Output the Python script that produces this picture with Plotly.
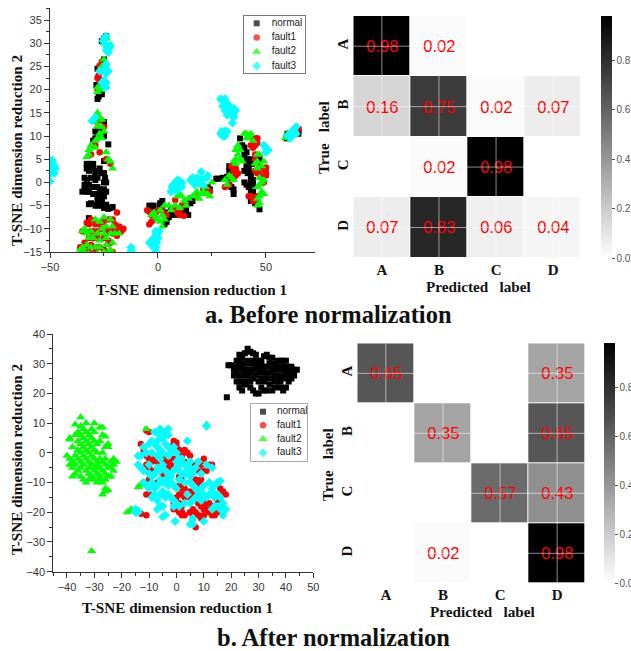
import plotly.graph_objects as go

W, H = 631, 651

# ---- panel a scatter data
a_normal = [(-24,31.5),(-25,31),(-26,30.5),(-25,26.5),(-26,25.5),(-27,25),(-28,24.5),(-27,22),(-28.5,21),(-27,20),(-26,19),(-27.5,18.5),(-28,18),
(-25,13),(-29,11),(-28,10.5),(-29,9.5),(-27,11),(-26,11.5),(-25,10),(-23,8.2),(-25,4.6),(-30,9),(-28,11.5),
(-33,4),(-32,4),(-31,3.5),(-30,3),(-32,2.5),(-33,3),(-30,4),(-29,2),(-28,2.5),(-27,3),(-26,2),(-25,2),(-24.5,1),(-31,1),(-29,1.5),(-29,0.5),(-28,1),(-25,0),(-24,0),(-34,1),(-33,0.5),(-34,-0.5),(-33,-1),(-32,-0.5),(-34,-1.5),(-35,-2),(-33,-2),(-32,-2),(-30,-1),(-28,-1),(-27,-1.5),(-25,-1.5),(-24,-2),(-30,-2.5),(-29,-2.5),(-28,-2.5),(-26,-2.5),(-25,-2.5),(-28,-3),(-27,-3.5),(-26,-3.5),(-25,-3),(-28,-4),(-27,-4.5),(-26,-4.5),(-32,-4.7),(-31,-4.5),(-29,-5),(-28,-5),(-26,-5),(-25,-5.5),(-24,-5.2),(-23,-5.7),(-22,-5.5),(-21,-5.3),(-24,-4.8),(-32,-7.7),
(-4,-5),(-3,-5.2),(-2,-5),(-3,-6),(1,-5.5),(1,-4.5),(2,-4),(2,-5),(3,-6.5),(5,-6.5),(6,-7),(5,-7.5),(4,-8.5),(3,-9),(6,-6),(8,-7),
(14,-4),(15,-3.5),(15,-4.5),(16,-4),(13,-6),(14,-7),(12,-6.5),(23,-1),(24,-1.5),(27,0.8),(28,0.8),(30,1),(32,1.2),(33,3.5),(33,2.5),(34,1),(35,-1.5),(35,-2.5),(34,-1),(33,0),
(38,9.5),(39,8),(40,7.5),(40,6),(41,6.5),(41,5),(41,4),(42,4),(41,3),(40,2.5),(41.5,2),(42,2.5),(42,3.5),(43,2),(43,1),(44,0.5),(43,0),(44,-0.5),(41,-0.5),(40,0),(42,-1),(43,-2),(44,-2),(44,-3.5),(43,-4),(45,-4.5),(47,-5.8),(47,5),(43,5),(43.5,4),
(65,11),(65,10.5),(65,11.5),(60,10.5),(59.5,9.5),(60,10)]
a_fault1 = [(-26,26),(-27,25),(-28,22.5),(-27,22),(-27.5,23),(-28,20),(-26.5,13.5),(-28,13),(-25,12),(-30,8),(-29,8),(-27,6.5),(-24,5),(-22,4),(-31,6),
(-19,-6.5),(-21,-8),(-23,-8),(-25,-8.5),(-27,-9),(-29,-9),(-31,-8),(-33,-8.7),(-32,-9),(-18,-9.5),(-16,-10),(-17,-10.5),(-19,-10),(-20,-9),(-21,-10),(-22,-10.5),(-24,-10),(-26,-10),(-28,-10.5),(-30,-10.5),(-31,-10.5),(-34,-10.5),(-35,-10.5),(-19,-11.5),(-21,-11),(-24,-11),(-25,-12),(-23,-12.5),(-22,-13),(-28,-12),(-30,-12),(-32,-12),(-34,-13),(-36,-14),(-35,-14),(-33,-14),(-31,-13.5),(-29,-14),(-27,-14),(-25,-14.5),(-23,-15),(-21,-15),(-35,-15),(-32,-15),(-29,-15),(-33,-15.3),
(-5,-6),(-4,-6.3),(-3,-7),(-2,-8),(-3,-8.5),(-4,-9),(-1,-6.5),(0,-6),(2,-6),(3,-7),(4,-7),(7,-5.5),(8,-3.8),(9,-6),(9,-6.5),(10,-7),(10,-6),(11,-5),(12,-7.2),(12,-5),(13,-4.5),(18,-3),(21,-1.5),(22,-2),(23,-1.5),(24,-2),
(31,-1),(33,-0.5),(35,1),(35,2.5),(36,3),(34,3.5),(36,1.5),(37,2),
(42,-3),(43,-3),(44,-4),(46,-4),(46,-3),(46,2),(45,2.5),(44,9),(45,9.5),(46,9.5),(46,8.5),(45,8),(44,7.5),(43,8),(45,6),(45,5),(47,3.5),(48,3),(49,3),(50,3),(50,2),(50,1.5),(50,3.2),(49,0),(48,1),(47,2),
(65,11.5),(64,11)]
a_fault2 = [(-24,31),(-25,30),(-25,26.5),(-24.5,25.5),(-26,25),(-25,24.5),(-28,20.5),(-27,20),(-28,19.5),
(-28,15),(-27,14),(-26,13.5),(-29,13),(-28,12),(-26,12),(-25,11),(-27,10.5),(-26,9.5),(-28,9.5),(-29,9),(-31,8),(-32,7),(-32,6),(-33,5.5),(-29,7.5),(-24,6.5),(-23,5),(-22,4.5),(-21,3),
(-25,-7.5),(-27,-8.5),(-29,-8),(-22,-8),(-21,-9.5),(-24,-9.5),(-26,-10),(-34,-10),(-35,-10.5),(-33,-11),(-31,-10.5),(-28,-11),(-25,-11),(-22,-11),(-20,-11),(-18,-11),(-30,-12),(-32,-12),(-27,-12.5),(-24,-12),(-21,-13),(-33,-13.5),(-35,-14),(-36,-14.5),(-31,-14),(-29,-14),(-27,-14),(-24,-13.5),(-22,-14.5),(-34,-15),(-32,-15.3),(-28,-15.3),(-25,-15),(-23,-15),
(-3,-7),(-2,-6.5),(-1,-7.5),(0,-8),(1,-8.5),(2,-9.5),(3,-8),(2,-7),(1,-6),(3,-5),(5,-5),(6,-6),(8,-5),(10,-5.5),(9,-3),(11,-3),(10,-2.5),(12,-4),(13,-5),(14,-3.5),(16,-3),(17,-3),(18,-2),(19,-3.5),(20,-2.5),(21,-2),(22,-1),(23,-2.5),(24,-3),(25,0),
(31,0.5),(32,-0.5),(33,1.5),(34,1),(35,0.5),(36,4),(35,4.5),(36,5),(37,6),(36,7),(37,8),(38,7),(38,5),(39,4.5),(40,10.5),(41,10.5),(42,10),(43,10.5),(41,9.5),(44,9),
(46,6),(47,6),(46,4.5),(45,4),(46,3),(47,1),(48,0),(47,-0.5),(46,-1),(49,0.5),(48,-2),(49,-2.5),(47,-3),(46,-3.5),(47,-4.5),(46,-5),(48,3.5),(49,4.5),
(59,9.5),(60,10.5),(61,10),(63,11)]
a_fault3 = [(-24,31.5),(-25,31),(-25.5,30.5),(-24,29.5),(-23,29.5),(-23.5,29),(-22,29.5),(-24,28.5),(-23,28),(-22.5,29),(-24,25.5),(-25,24),(-27,24),(-24,23.5),(-23,24),(-24.5,24.7),(-25,22),(-24,21.5),(-26,21.5),(-25,20.7),(-24,20.5),(-30.5,13.3),(-30,13.5),(-29,14),
(-49,4.8),(-48.5,4),(-48,3.5),(-49,3),(-47.5,3),(-49.5,2.5),(-48,2),(-50,0.2),(-49.5,2),(-48.5,2.8),
(-12.5,-14),(-12.3,-14.7),(-12,-15.3),(-12.5,-15),
(-1,-15),(-2,-14),(-2,-13),(-1,-14),(-1.5,-13),(-0.5,-13),(-4,-13),(-3,-12.5),(-2,-12),(-1,-11),(0,-12),(-1,-10.5),(0,-11),(0.5,-10.5),(-0.5,-12),
(6,-2),(6.5,-1),(7,-0.5),(7,-1.5),(8,0),(8,-1),(9,0.5),(9,-0.5),(10,0.3),(10,-0.8),(11,0),(11,-1),(8.5,-1.8),
(15,0.5),(16,1),(17,0.5),(17,-0.5),(18,1),(18,0),(19,0.5),(19,-0.3),(20,2.3),(20,0.5),(21,-0.5),(20.5,0.7),(23,1.5),(22.5,1),
(29,18),(30,17.5),(30,16.5),(31,18),(31,16.5),(32,17),(32,15.5),(33,16.5),(33,15),(34,16),(34,15),(35,16),(36,15.5),(35,14.5),(35,14),(34.5,12.8),(32,14.5),(31,15.5),
(29,10.5),(30,10.5),(30,10),(31,11),(31,10),(32,11),(29.5,11),
(49,8),(50,7.5),(51,7),(50,6.5),
(60,10),(61,10.5),(62,10),(62,11),(63,11),(63,11.5),(64,12),(64,10.5),(61,9.5)]

# ---- panel b scatter data
b_normal = [(19,29.5),(20,29.5),(18.4,18.7),(21,28),(22,27),(23,29),(22,31),(23,33),(24,32),(25,33.5),(26,35),(27,34),(28,33.5),(29,33),(30,31),(31,30),(32,32.5),(33,33),(34,32),(35,32),(36,30),(37,29),(38,31),(39,31),(40,31),(41,29),(42,29),(43,28),(44,28),
(21,26),(22,24),(23,22),(24,21),(25,23),(26,26),(27,24),(28,21),(29,20),(30,20),(31,22),(32,21),(33,21),(34,23),(35,21),(36,22),(37,24),(38,22),(39,21),(40,22),(41,24),(42,25),(43,26),(41,27),
(23,26),(24,28),(25,30),(26,28),(27,30),(28,28),(29,26),(30,27),(31,25),(32,27),(33,29),(34,27),(35,28),(36,26),(37,26),(38,28),(39,26),(40,25),(24,24),(25,26),(26,31),(27,27),(28,31),(29,29),(30,24),(31,28),(32,24),(33,25),(34,30),(35,25),(36,24),(37,31),(38,25),(39,29),(40,28),(42,27),(23,31),(24,30),(25,28),(28,25),(30,29),(32,29),(26,24),(22,29),(23,24),(27,22),(35,30),(40,27),(29,31),(33,27),(38,24),(31,31),(36,28)]
b_fault1 = [(-11,7.5),(-10,7),(-13,3),(-12,1),(-11,-1),(-10,-2),(-9,-3),(-11,-4),(-10,-5),(-9,-6),(-8,-2),(-7,-3),(-4,-1),(-3,-3),(-2,-4),(-3,-5),(-4,-3),(-1,-2),(-2,2),(-1,3),(-1,4),(0,2),(0,3.5),(1,1),(1,0),(2,-1),(3,1),(4,0),(5,-1),(3,-3),(5,-4),(6,-5),(7,-4),(8,-3),(9,-4),(10,-2),(11,-6),(12,-4),(13,-4),(10,-6),(8,-6),
(-12,-10),(-10,-9),(-9,-11),(-11,-14),(-10,-14),(-8,-14),(-13,-20.5),(-11,-21),(-7,-10),(-5,-7),(-4,-8),
(1,-8),(2,-9),(3,-10),(1,-11),(2,-12),(3,-12),(1,-14),(2,-14),(3,-15),(0,-15),(-1,-17),(0,-17),(1,-17),(2,-18),(0,-19),(1,-20),(2,-20),(3,-21),(-1,-19),(2,-21),(5,-13),(6,-14),(5,-15),(7,-9),(8,-10),(9,-9),(9,-11),(8,-17),(9,-18),(10,-19),(11,-17),(12,-17),(13,-18),(14,-15),(12,-20),(13,-21),(14,-21),(15,-20),(16,-12),(17,-13),(18,-14),(15,-16),(7,-20),(8,-21),(9,-22),(6,-22),(6,-21),(7,-25),(6,-19),(10,-21),(5,-20),(11,-19),(16,-16)]
b_fault2 = [(-35,12),(-37,9.5),(-35,9),(-33,10),(-30,10),(-28,8.5),(-27,8.5),(-39,5),(-37,6),(-36,7),(-35,6),(-34,8),(-33,7),(-32,6),(-31,8),(-30,7),(-27,6),(-26,5.5),(-39,4.5),(-36,4),(-35,3),(-34,5),(-33,4),(-32,3),(-31,5),(-30,4),(-29,3),(-28,4),(-26,2),(-25,2),(-38,2),(-36,1),(-35,0),(-34,2),(-33,1),(-32,0),(-31,2),(-30,1),(-29,0),(-27,0),(-25,3),(-40,-1),(-39,-2),(-38,-3),(-37,-1),(-36,-2),(-35,-3),(-34,-1),(-33,-2),(-32,-3),(-31,-1),(-30,-2),(-29,-3),(-28,-2),(-27,-3),(-26,-2),(-39,-4),(-38,-5),(-37,-4),(-35,-5),(-34,-4),(-32,-5),(-31,-4),(-30,-5),(-29,-4),(-28,-5),(-26,-4),(-25,-5),(-24,-3),(-23,-4),(-22,-3),(-23,-2),(-24,-5),(-38,-8),(-37,-7),(-36,-6),(-35,-8),(-33,-6),(-32,-7),(-31,-8),(-30,-6),(-29,-7),(-28,-8),(-27,-6),(-26,-7),(-25,-8),(-24,-8),(-23,-6),(-34,-9),(-33,-10),(-32,-9),(-30,-9),(-29,-10),(-28,-9),(-27,-10),(-26,-9),
(-27,-14),(-26,-13),(-26,-12),(-25,-12.5),(-14,-11.5),(-13.5,-11),(-18,-20),(-17,-19.5),(-16.5,-19),(-31,-33),(-11,8),(11,9.5)]
b_fault3 = [(-9,4),(-8,7),(-6,6),(-6,8),(-4,7),(-3,8),(-3,6),(-5,5),(-7,4),(-8,3),(-10,3),(-12,2),(-11,0),(-14,-1),(-13,-1),(-7,2),(-6,1),(-4,3),(-3,2),(-5,0),(-6,-2),(-7,-1),(-3,-1),(-2,0),(0,0),(1,-2),(2,-2),(0,-3),(3,-4),(4,4),(5,-5),(-14,-4),(-13,-5),(-12,-6),(-10,-7),(-9,-8),(-8,-7),(-7,-5),(-6,-6),(-5,-4),(-4,-6),(-3,-7),(-2,-8),(-1,-6),(0,-5),(1,-6),(2,-7),(3,-7),(4,-6),(5,-8),(6,-7),(7,-5),(8,-3),(11,-4),(13,-5),
(-12,-10),(-11,-11),(-10,-12),(-9,-10),(-8,-12),(-7,-11),(-6,-9),(-5,-10),(-4,-9),(-3,-11),(-2,-10),(-1,-11),(0,-12),(1,-9),(3,-10),(5,-10),(6,-11),(7,-12),(8,-13),(9,-12),(10,-11),(12,-10),(13,-12),(14,-11),(15,-10),(16,-9.5),
(-9,-15),(-8,-14),(-7,-16),(-6,-14),(-5,-13),(-4,-15),(-3,-14),(-2,-15),(-1,-16),(0,-17),(-6,-18),(-7,-19),(-5,-18),(-5,-21.5),(-4,-21),(-1,-18),(1,-18),(-0.5,-23),(3,-17),(5,-17),(6,-16),(7,-15),(8,-15),(9,-16),(10,-14),(11,-15),(12,-14),(13,-13),(14,-15),(15,-14),(16,-15),(14,-18),(15,-18),(16,-19),(17,-17),(18,-19),(17,-21),(13,-19),(10,-23),(6,-24),(5,-24),(6,-22),(-15,-19),(-14,-19.5),(-15,-20),(-14,-20),(11,9),(4,-14),(-10,-4),(-9,0),(-1,2),(1,-4),(5,-3),(9,-7)]

# ---- confusion matrices
labels = ["A", "B", "C", "D"]
matrix_a = [[0.98, 0.02, None, None],
            [0.16, 0.75, 0.02, 0.07],
            [None, 0.02, 0.98, None],
            [0.07, 0.83, 0.06, 0.04]]
matrix_b = [[0.65, None, None, 0.35],
            [None, 0.35, None, 0.65],
            [None, None, 0.57, 0.43],
            [None, 0.02, None, 0.98]]
series_names = ["normal", "fault1", "fault2", "fault3"]
series_colors = ["#000000", "#ff0000", "#00ff00", "#00ffff"]
series_symbols = ["square", "circle", "triangle-up", "diamond"]
series_sizes = [6, 6.5, 8, 7]

def fx(p): return p / W
def fy(p): return 1 - p / H

SERIF = "Liberation Serif"
SANS = "Liberation Sans"
fig = go.Figure()

# scatter panels
for axis_suffix, groups in [("", (a_normal, a_fault1, a_fault2, a_fault3)),
                            ("2", (b_normal, b_fault1, b_fault2, b_fault3))]:
    for name, color, sym, size, pts in zip(series_names, series_colors, series_symbols, series_sizes, groups):
        fig.add_trace(go.Scatter(x=[p[0] for p in pts], y=[p[1] for p in pts], mode="markers", name=name, showlegend=False,
                                 marker=dict(color=color, symbol=sym, size=size, line=dict(width=0)),
                                 xaxis="x" + axis_suffix, yaxis="y" + axis_suffix))

def heat(matrix, xa, ya, top, bottom, cx):
    text = [["" if v is None else f"{v:.2f}" for v in row] for row in matrix]
    fig.add_trace(go.Heatmap(z=matrix, x=labels, y=labels, text=text, texttemplate="%{text}",
                             textfont=dict(color="#ff0000", size=16.5, family=SANS),
                             xaxis=xa, yaxis=ya, zmin=0, zmax=0.98, xgap=1, ygap=1, hoverongaps=False,
                             colorscale=[[0, "#ffffff"], [1, "#000000"]], showscale=True,
                             colorbar=dict(x=fx(cx), xanchor="left", xpad=0, ypad=0, thickness=10.5, thicknessmode="pixels",
                                           y=fy(top), yanchor="top", len=(bottom - top) / H, lenmode="fraction",
                                           outlinewidth=0, tickvals=[0, 0.2, 0.4, 0.6, 0.8], ticktext=["0.0", "0.2", "0.4", "0.6", "0.8"],
                                           ticks="outside", ticklen=3, tickcolor="#555555", tickwidth=1,
                                           tickfont=dict(family=SANS, size=10, color="#555555"))))

heat(matrix_a, "x3", "y3", 16, 257.7, 600.7)
heat(matrix_b, "x4", "y4", 343.3, 583.3, 604.3)

# hand-built legends, one small subplot each (the native legend has a minimum row height)
key_rows_a = [7.3, 21.5, 35.7, 50]
key_rows_b = [7.7, 21.3, 35, 48.7]
for xa, ya, rows, key_x, text_x in [("x5", "y5", key_rows_a, 12.7, 27.7), ("x6", "y6", key_rows_b, 12, 26)]:
    fig.add_trace(go.Scatter(x=[key_x] * 4, y=rows, mode="markers", xaxis=xa, yaxis=ya, showlegend=False, hoverinfo="skip",
                             marker=dict(color=series_colors, symbol=series_symbols, size=series_sizes, line=dict(width=0))))
    fig.add_trace(go.Scatter(x=[text_x] * 4, y=rows, mode="text", text=series_names, textposition="middle right",
                             xaxis=xa, yaxis=ya, showlegend=False, hoverinfo="skip", cliponaxis=False,
                             textfont=dict(family=SANS, size=10, color="#222222")))

# white cross lines over the cells
shapes = []
for xa, ya in [("x3", "y3"), ("x4", "y4")]:
    for lab in labels:
        shapes.append(dict(type="line", xref=f"{xa} domain", yref=ya, x0=0, x1=1, y0=lab, y1=lab,
                           line=dict(color="rgba(255,255,255,0.55)", width=1)))
        shapes.append(dict(type="line", xref=xa, yref=f"{ya} domain", x0=lab, x1=lab, y0=0, y1=1,
                           line=dict(color="rgba(255,255,255,0.55)", width=1)))

def scat_axis(domain, rng, dtick, minor, anchor):
    return dict(domain=domain, range=rng, dtick=dtick, tick0=0, showgrid=False, zeroline=False, showline=True,
                linecolor="#333333", linewidth=1, ticks="outside", ticklen=5, tickcolor="#333333", anchor=anchor,
                tickfont=dict(family=SANS, size=11, color="#333333"),
                minor=dict(dtick=minor, ticks="outside", ticklen=3, tickcolor="#333333", showgrid=False))

def heat_axis(domain, anchor, angle=0, rev=False):
    d = dict(domain=domain, anchor=anchor, type="category", showgrid=False, zeroline=False, showline=False, ticks="",
             tickangle=angle, tickfont=dict(family=SERIF, size=15, color="#111111", weight="bold"), ticklabelstandoff=1)
    if rev:
        d["autorange"] = "reversed"
    return d

def key_axis(domain, rng, anchor, color):
    return dict(domain=domain, range=rng, anchor=anchor, showgrid=False, zeroline=False, showticklabels=False, ticks="",
                showline=True, mirror=True, linecolor=color, linewidth=1, fixedrange=True)

def note(text, x, y, size, angle=0):
    return dict(text=f"<b>{text}</b>", xref="paper", yref="paper", x=fx(x), y=fy(y), xanchor="center", yanchor="middle",
                showarrow=False, textangle=angle, font=dict(family=SERIF, size=size, color="#111111"))

sp = "\u00a0\u00a0\u00a0"
annotations = [
    note("T-SNE dimension reduction 1", 191, 290, 15.2),
    note("T-SNE dimension reduction 2", 16, 151, 15.2, -90),
    note("T-SNE dimension reduction 1", 177, 607, 15.2),
    note("T-SNE dimension reduction 2", 16, 460, 15.2, -90),
    note(f"Predicted{sp}label", 478, 286, 15.2),
    note(f"True{sp}label", 324, 137, 15, -90),
    note(f"Predicted{sp}label", 482, 611, 15.2),
    note(f"True{sp}label", 328, 465, 15, -90),
    note("a. Before normalization", 328, 314, 24.5),
    note("b. After normalization", 333, 637, 24.5),
]

fig.update_layout(
    width=W, height=H, autosize=False, paper_bgcolor="#ffffff", plot_bgcolor="#ffffff", showlegend=False,
    margin=dict(l=0, r=0, t=0, b=0, autoexpand=False),
    xaxis=scat_axis([fx(50), fx(315)], [-50, 72.7], 50, 25, "y"),
    yaxis=scat_axis([fy(252), fy(8)], [-15, 37.6], 5, 2.5, "x"),
    xaxis2=scat_axis([fx(53.3), fx(313.3)], [-45, 50], 10, 5, "y2"),
    yaxis2=scat_axis([fy(571.7), fy(334)], [-40, 40], 10, 5, "x2"),
    xaxis3=heat_axis([fx(353.3), fx(581.7)], "y3"),
    yaxis3=heat_axis([fy(257.7), fy(16)], "x3", -90, True),
    xaxis4=heat_axis([fx(357.3), fx(585.7)], "y4"),
    yaxis4=heat_axis([fy(583.3), fy(343.3)], "x4", -90, True),
    xaxis5=key_axis([fx(244), fx(305)], [0, 61], "y5", "#777777"),
    yaxis5=key_axis([fy(73), fy(16)], [57, 0], "x5", "#777777"),
    xaxis6=key_axis([fx(251), fx(307)], [0, 56], "y6", "#aaaaaa"),
    yaxis6=key_axis([fy(461), fy(404)], [57, 0], "x6", "#aaaaaa"),
    shapes=shapes, annotations=annotations,
)
fig.write_html("out.html", config={"displayModeBar": False},
               post_script="document.body.style.margin='0';document.documentElement.style.overflow='hidden';")
